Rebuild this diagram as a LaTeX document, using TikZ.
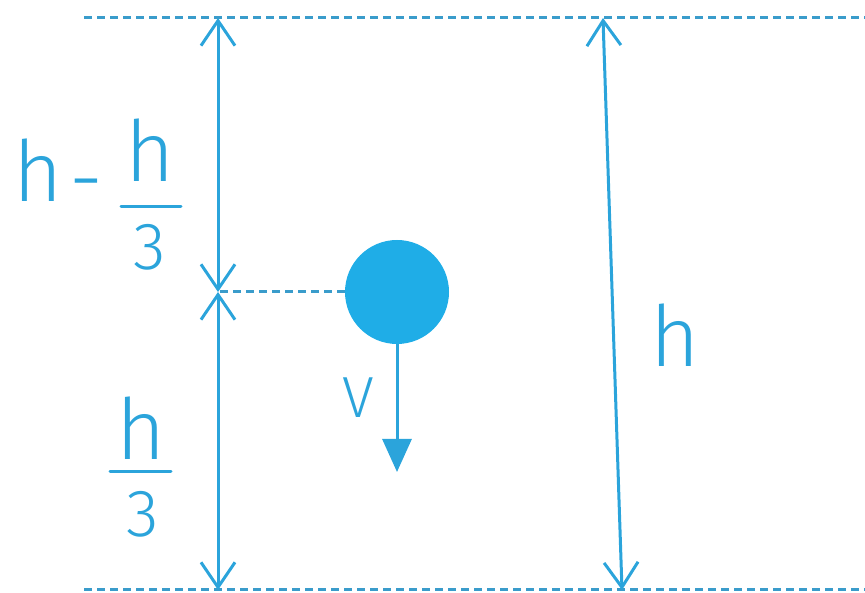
\documentclass[tikz,border=0pt]{standalone}
\usepackage{fontspec}
\setmainfont{Fira Sans Light}
\usetikzlibrary{arrows.meta,positioning}
\definecolor{Sky}{HTML}{2BA4DB}
\definecolor{SkyDark}{HTML}{3A9CCB}
\definecolor{Ball}{HTML}{1FADE7}
\tikzset{
  dashline/.style={draw=SkyDark,line width=0.6mm,dash pattern=on 1.6mm off 1mm},
  dimline/.style={{Straight Barb[length=5mm,width=6.8mm]}-{Straight Barb[length=5mm,width=6.8mm]},line width=0.6mm,draw=Sky},
  velarrow/.style={-{Triangle[length=6.6mm,width=5.8mm]},line width=0.6mm,draw=Sky},
  ball/.style={circle,fill=Ball,minimum size=20.8mm,inner sep=0pt},
  lbl/.style={inner sep=0pt,text=Sky,font=\fontsize{48}{52}\selectfont},
  lblsmall/.style={lbl,font=\fontsize{38}{42}\selectfont},
  fracbar/.style={draw=Sky,line width=0.6mm,line cap=round}
}
\begin{document}
\begin{tikzpicture}[x=0.2mm,y=-0.2mm]
\useasboundingbox (0,0) rectangle (865,593);
% reference levels
\coordinate (topA) at (84,18);\coordinate (topB) at (865,18);
\coordinate (botA) at (84,590);\coordinate (botB) at (865,590);
\draw[dashline] (topA)--(topB);\draw[dashline] (botA)--(botB);
% ball and velocity
\node[ball] (ball) at (397,292) {};
\coordinate (vtip) at (397,472);
\draw[velarrow] (ball.south)--(vtip);
\node[lbl,font=\fontsize{33}{36}\selectfont] (vel) at (358,398) {V};
% left dimensions
\coordinate (topL) at (218,18);\coordinate (midL) at (218,292);\coordinate (botL) at (218,590);
\draw[dashline] (ball.west)--(midL);
\draw[dimline] (topL)--(midL);\draw[dimline] (midL)--(botL);
% right dimension
\coordinate (topR) at (603,18);\coordinate (botR) at (622,590);
\draw[dimline] (topR)--(botR);
\node[lbl] (hfull) at (675,335) {h};
% h - h/3
\node[lbl] (hA) at (38,170) {h};
\node[lbl,anchor=base] (minus) at (86,208) {-};
\node[lbl] (hB) at (150,150) {h};
\node[lblsmall] (threeA) at (150,247) {3};
\coordinate (barAl) at (121,207);\coordinate (barAr) at (181,207);
\draw[fracbar] (barAl)--(barAr);
% h/3
\node[lbl] (hC) at (141,428) {h};
\node[lblsmall] (threeB) at (143,514) {3};
\coordinate (barBl) at (110,472);\coordinate (barBr) at (171,472);
\draw[fracbar] (barBl)--(barBr);
\end{tikzpicture}
\end{document}
